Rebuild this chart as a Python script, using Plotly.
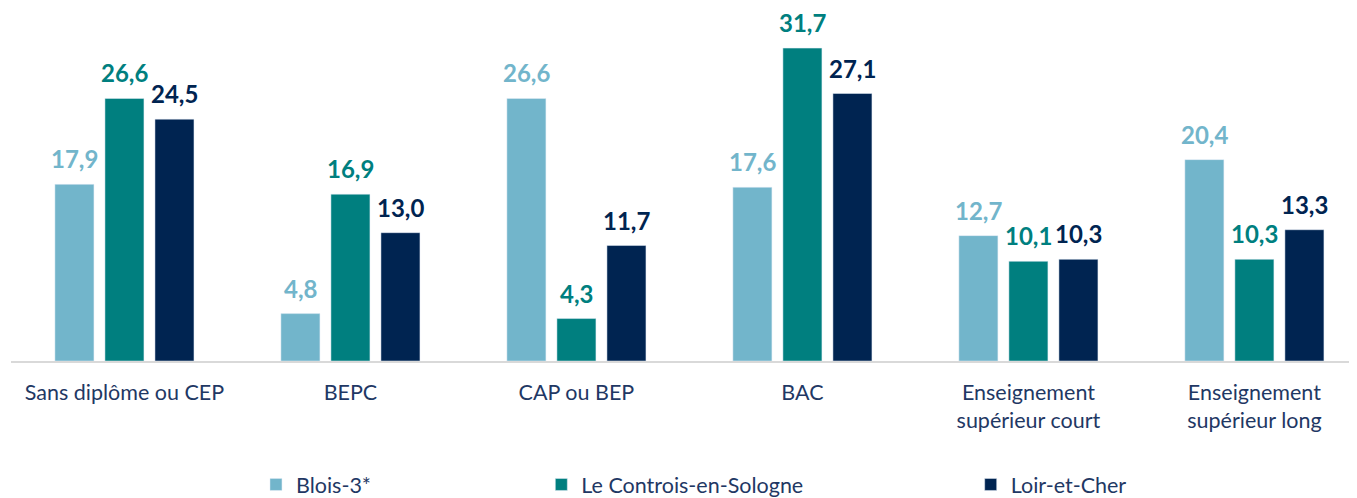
import plotly.graph_objects as go

categories = ["Sans diplôme ou CEP", "BEPC", "CAP ou BEP", "BAC",
              "Enseignement<br>supérieur court", "Enseignement<br>supérieur long"]
blois = [17.9, 4.8, 26.6, 17.6, 12.7, 20.4]
controis = [26.6, 16.9, 4.3, 31.7, 10.1, 10.3]
loir = [24.5, 13.0, 11.7, 27.1, 10.3, 13.3]
series_names = ["Blois-3*", "Le Controis-en-Sologne", "Loir-et-Cher"]
colors = ["#72B5CB", "#007F7F", "#002451"]

FONT = "Lato, 'Open Sans', sans-serif"
TXT = "#1F3864"

fig = go.Figure()
legend_ids = ["legend", "legend2", "legend3"]
shifts = [-50, 0, 50]
for vals, name, col, lg, sh in zip([blois, controis, loir], series_names, colors, legend_ids, shifts):
    fig.add_trace(go.Bar(
        x=categories, y=vals, name=name, marker_color=col,
        legend=lg, hoverinfo="x+y+name",
    ))
    for c, v in zip(categories, vals):
        fig.add_annotation(
            x=c, y=v, xref="x", yref="y", xshift=sh, yshift=9,
            xanchor="center", yanchor="bottom", showarrow=False,
            text="<b>" + f"{v:.1f}".replace(".", ",") + "</b>",
            font=dict(family=FONT, size=24, color=col),
        )

leg_common = dict(orientation="h", yanchor="middle", y=-0.36, xanchor="left",
                  font=dict(family=FONT, size=21.5, color=TXT),
                  bgcolor="rgba(0,0,0,0)", itemwidth=30)
fig.update_layout(
    width=1349, height=490,
    margin=dict(l=3, r=0, t=10, b=137, autoexpand=False),
    paper_bgcolor="white", plot_bgcolor="white",
    barmode="group", bargap=0.336, bargroupgap=0.22,
    showlegend=True,
    legend=dict(x=0.182, **leg_common),
    legend2=dict(x=0.394, **leg_common),
    legend3=dict(x=0.713, **leg_common),
    xaxis=dict(showline=True, linecolor="#D9D9D9", linewidth=2,
               range=[-0.502, 5.454],
               ticks="outside", ticklen=11, tickcolor="rgba(0,0,0,0)",
               tickfont=dict(family=FONT, size=21.5, color=TXT), showgrid=False),
    yaxis=dict(range=[0, 34.75], visible=False, showgrid=False, zeroline=False),
)
fig.write_html("out.html")
